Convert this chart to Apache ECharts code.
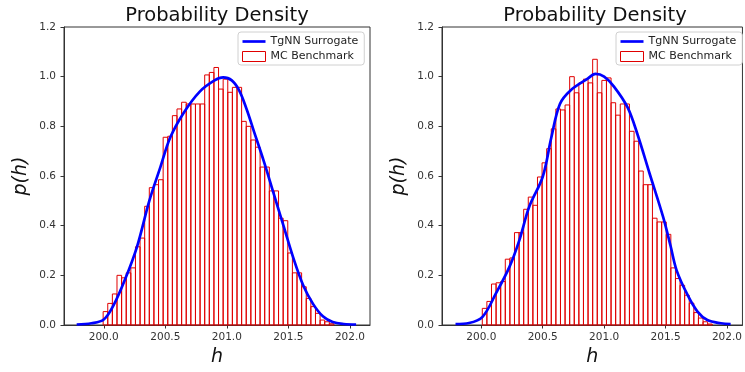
<!DOCTYPE html>
<html>
<head>
<meta charset="utf-8">
<script src="https://cdn.jsdelivr.net/npm/echarts@6/dist/echarts.min.js"></script>
<style>
  html, body { margin: 0; padding: 0; background: #fff; }
  #chart { width: 745px; height: 372px; }
</style>
</head>
<body>
<div id="chart"></div>
<script>
// ---- data -------------------------------------------------------------
const xTickValues = [200.0, 200.5, 201.0, 201.5, 202.0];
const yTickMax = 1.2;
const binCount = 50;

// left panel: MC histogram (density per bin) and surrogate KDE
const leftBinRange = [199.995, 201.87];
const leftHeights = [
  0.054, 0.087, 0.125, 0.200, 0.190, 0.210, 0.230, 0.315, 0.350, 0.478,
  0.553, 0.565, 0.585, 0.756, 0.760, 0.843, 0.870, 0.897, 0.890, 0.890,
  0.890, 0.890, 1.007, 1.017, 1.037, 0.950, 0.990, 0.937, 0.957, 0.957,
  0.820, 0.800, 0.745, 0.716, 0.636, 0.636, 0.540, 0.540, 0.430, 0.420,
  0.290, 0.210, 0.210, 0.154, 0.107, 0.074, 0.047, 0.020, 0.013, 0.005
];
const leftKdeX = [199.78, 199.90, 200.00, 200.08, 200.17, 200.27, 200.37, 200.46, 200.54, 200.65,
                  200.78, 200.90, 200.97, 201.04, 201.10, 201.16, 201.22, 201.30, 201.38, 201.46,
                  201.54, 201.62, 201.70, 201.78, 201.86, 201.95, 202.05];
const leftKdeY = [0.002, 0.007, 0.022, 0.080, 0.180, 0.315, 0.500, 0.636, 0.755, 0.855,
                  0.940, 0.985, 0.997, 0.985, 0.945, 0.870, 0.780, 0.660, 0.530, 0.400,
                  0.270, 0.160, 0.085, 0.035, 0.012, 0.004, 0.002];

// right panel
const rightBinRange = [200.008, 201.88];
const rightHeights = [
  0.067, 0.095, 0.165, 0.170, 0.175, 0.265, 0.270, 0.372, 0.372, 0.466,
  0.515, 0.482, 0.596, 0.653, 0.710, 0.790, 0.870, 0.866, 0.886, 1.000,
  0.935, 0.975, 0.990, 0.975, 1.070, 0.935, 0.985, 0.995, 0.895, 0.845,
  0.890, 0.890, 0.780, 0.740, 0.620, 0.565, 0.565, 0.430, 0.415, 0.415,
  0.365, 0.230, 0.187, 0.160, 0.120, 0.088, 0.050, 0.028, 0.013, 0.004
];
const rightKdeX = [199.79, 199.90, 200.01, 200.12, 200.23, 200.31, 200.39, 200.50, 200.57, 200.64,
                   200.73, 200.86, 200.93, 201.00, 201.08, 201.19, 201.27, 201.37, 201.48, 201.54,
                   201.59, 201.68, 201.76, 201.84, 201.95, 202.03];
const rightKdeY = [0.004, 0.008, 0.033, 0.128, 0.235, 0.342, 0.476, 0.597, 0.755, 0.890,
                   0.946, 0.990, 1.011, 1.000, 0.960, 0.877, 0.770, 0.610, 0.435, 0.320,
                   0.220, 0.120, 0.054, 0.020, 0.007, 0.004];

// ---- helpers ----------------------------------------------------------
const FONT = 'DejaVu Sans';
const RED = '#e00000';
const BLUE = '#0000ff';
const SPINE = '#333333';
const LINE_ICON = 'path://M0,0 L0,0 M0,3.6 L24,3.6 L24,6.4 L0,6.4 Z M24,10 L24,10';

function binEdges(range, n) {
  const w = (range[1] - range[0]) / n;
  const e = [];
  for (let i = 0; i <= n; i++) e.push(range[0] + i * w);
  return e;
}

function histSeries(idx, range, heights) {
  const edges = binEdges(range, binCount);
  return {
    type: 'custom',
    name: 'MC Benchmark',
    xAxisIndex: idx,
    yAxisIndex: idx,
    itemStyle: { color: RED },
    z: 2,
    encode: { x: [0, 1], y: 2 },
    data: heights.map((h, i) => [edges[i], edges[i + 1], h]),
    renderItem(params, api) {
      const a = api.coord([api.value(0), api.value(2)]);
      const b = api.coord([api.value(1), 0]);
      return {
        type: 'rect',
        shape: { x: a[0], y: a[1], width: b[0] - a[0], height: b[1] - a[1] },
        style: { fill: 'rgba(255,255,255,0)', stroke: RED, lineWidth: 1 }
      };
    }
  };
}

function kdeSeries(idx, xs, ys) {
  return {
    type: 'line',
    name: 'TgNN Surrogate',
    xAxisIndex: idx,
    yAxisIndex: idx,
    smooth: 0.35,
    symbol: 'none',
    showSymbol: false,
    z: 5,
    lineStyle: { color: BLUE, width: 2.7 },
    itemStyle: { color: BLUE },
    data: xs.map((x, i) => [x, ys[i]])
  };
}

function xAxis(idx, min, max) {
  return {
    type: 'value', gridIndex: idx, min, max,
    name: 'h', nameLocation: 'middle', nameGap: 21,
    nameTextStyle: { fontFamily: FONT, fontStyle: 'italic', fontSize: 19, color: '#111' },
    axisLine: { show: true, lineStyle: { color: SPINE, width: 1 } },
    axisTick: { show: true, customValues: xTickValues, length: 3.5, lineStyle: { color: SPINE } },
    axisLabel: {
      customValues: xTickValues, fontFamily: FONT, fontSize: 10.5, color: '#333', margin: 7,
      formatter: v => v.toFixed(1)
    },
    splitLine: { show: false }
  };
}

function yAxis(idx) {
  return {
    type: 'value', gridIndex: idx, min: 0, max: yTickMax, interval: 0.2,
    name: 'p(h)', nameLocation: 'middle', nameGap: 33, nameRotate: 90,
    nameTextStyle: { fontFamily: FONT, fontStyle: 'italic', fontSize: 19, color: '#111' },
    axisLine: { show: true, lineStyle: { color: SPINE, width: 1 } },
    axisTick: { show: true, length: 3.5, lineStyle: { color: SPINE } },
    axisLabel: { fontFamily: FONT, fontSize: 10.5, color: '#333', margin: 8, formatter: v => v.toFixed(1) },
    splitLine: { show: false }
  };
}

function legend(left) {
  return {
    left, top: 32,
    orient: 'vertical',
    itemWidth: 23, itemHeight: 10, itemGap: 4,
    padding: [4, 6, 3, 4],
    backgroundColor: '#fff',
    borderColor: '#d0d0d0', borderWidth: 1, borderRadius: 3,
    textStyle: { fontFamily: FONT, fontSize: 11, color: '#222' },
    data: [
      { name: 'TgNN Surrogate', icon: LINE_ICON, itemStyle: { color: BLUE, borderWidth: 0 } },
      { name: 'MC Benchmark', icon: 'rect',
        itemStyle: { color: '#fff', borderColor: RED, borderWidth: 1 } }
    ]
  };
}

function title(centerX) {
  return {
    text: 'Probability Density',
    left: centerX, top: 1, textAlign: 'center',
    textStyle: { fontFamily: FONT, fontSize: 19.5, fontWeight: 'normal', color: '#111' }
  };
}

// ---- chart ------------------------------------------------------------
const chart = echarts.init(document.getElementById('chart'), null, { renderer: 'canvas' });
chart.setOption({
  animation: false,
  backgroundColor: '#fff',
  title: [title(212), title(590)],
  legend: [legend(238), legend(616)],
  grid: [
    { left: 64, top: 27, width: 306, height: 298, show: true, borderColor: SPINE, borderWidth: 1, backgroundColor: 'transparent' },
    { left: 442, top: 27, width: 306, height: 298, show: true, borderColor: SPINE, borderWidth: 1, backgroundColor: 'transparent' }
  ],
  xAxis: [xAxis(0, 199.677, 202.163), xAxis(1, 199.68, 202.126)],
  yAxis: [yAxis(0), yAxis(1)],
  series: [
    histSeries(0, leftBinRange, leftHeights),
    kdeSeries(0, leftKdeX, leftKdeY),
    histSeries(1, rightBinRange, rightHeights),
    kdeSeries(1, rightKdeX, rightKdeY)
  ]
});
</script>
</body>
</html>
